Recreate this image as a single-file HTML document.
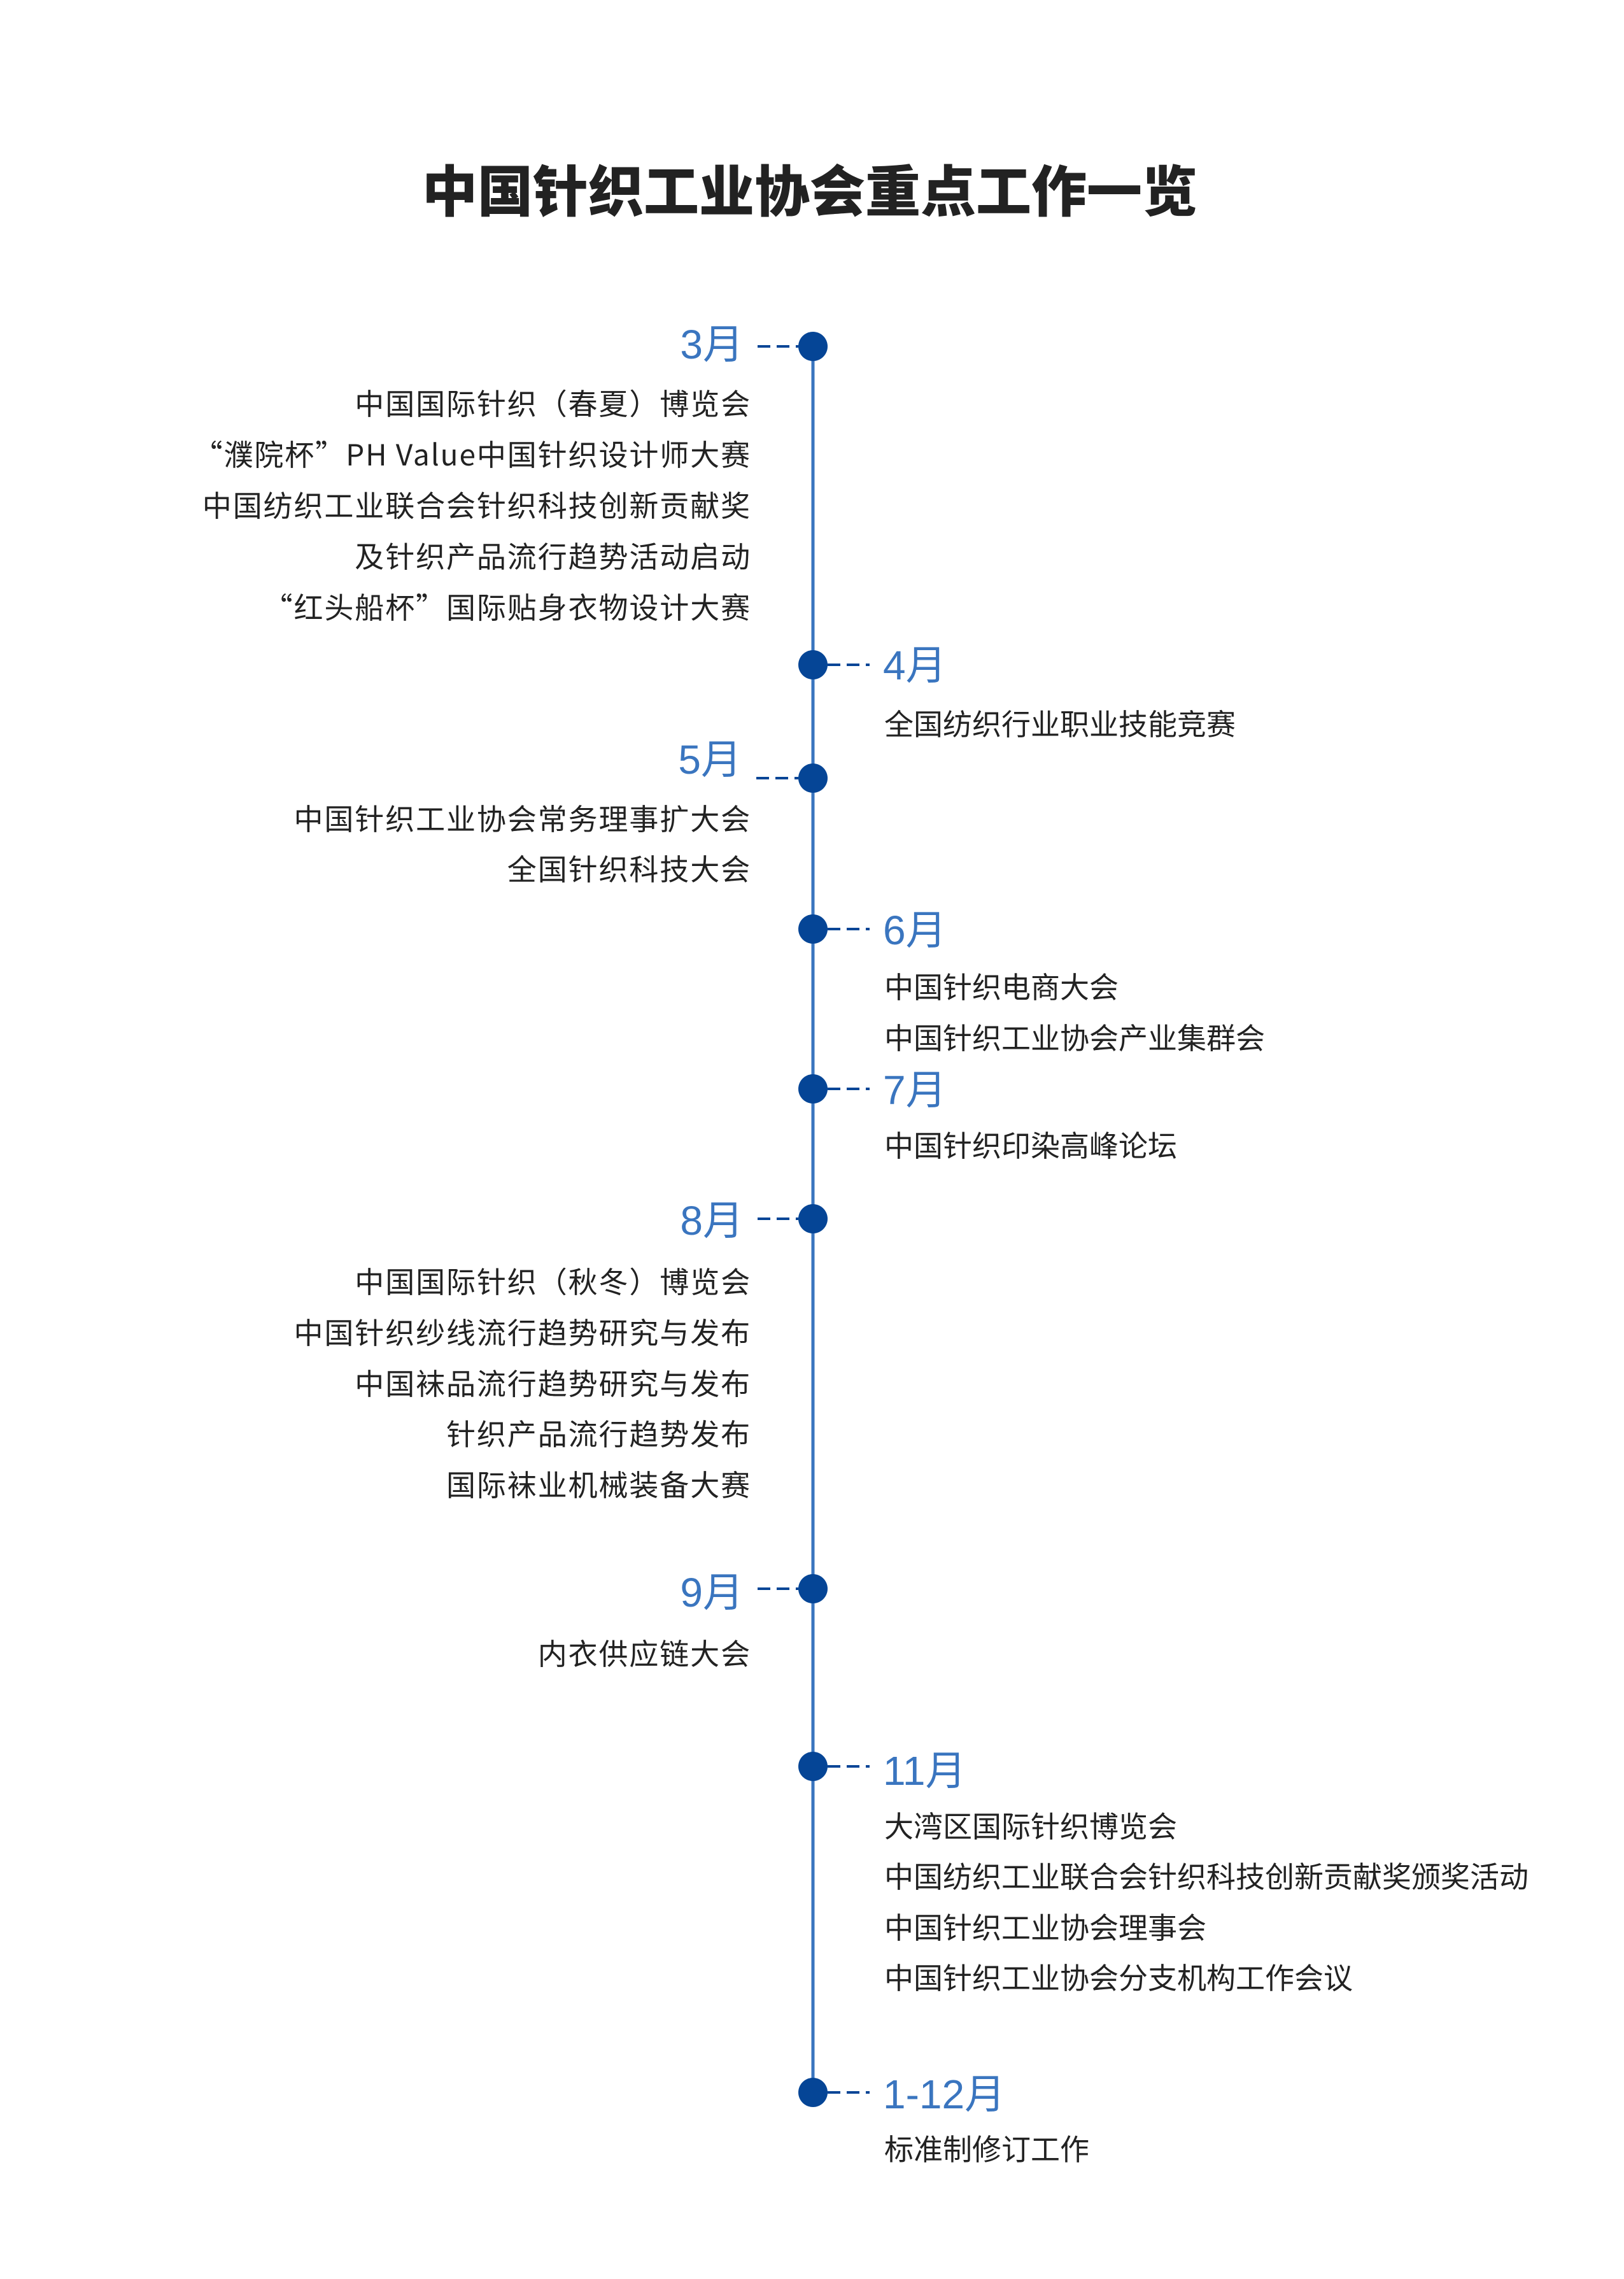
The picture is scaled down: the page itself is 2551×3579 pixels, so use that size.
<!DOCTYPE html>
<html><head><meta charset="utf-8"><style>
html,body{margin:0;padding:0;background:#fff;}
body{width:2551px;height:3579px;position:relative;overflow:hidden;font-family:"Liberation Sans","Noto Sans CJK SC",sans-serif;}
.t{position:absolute;white-space:nowrap;font-size:46px;line-height:46px;color:#222;font-family:"Noto Sans CJK SC",sans-serif;}
.l{right:1371px;text-align:right;letter-spacing:1.9px;}
.r{left:1389px;}
.m{position:absolute;white-space:nowrap;font-size:64px;line-height:64px;color:#3a75bf;font-family:"Liberation Sans","Noto Sans CJK SC",sans-serif;}
.title{position:absolute;left:663px;top:252px;font-size:87px;line-height:87px;font-weight:900;color:#222;font-family:"Noto Sans CJK SC",sans-serif;white-space:nowrap;}
</style></head><body>
<div class="title">中国针织工业协会重点工作一览</div>
<svg width="2551" height="3579" style="position:absolute;left:0;top:0">
<line x1="1277" y1="544" x2="1277" y2="3286" stroke="#3a75bf" stroke-width="5"/>
<g stroke="#054596" stroke-width="4" stroke-dasharray="20,10">
<line x1="1190" y1="544" x2="1254" y2="544"/>
<line x1="1300" y1="1044" x2="1366" y2="1044"/>
<line x1="1188" y1="1222" x2="1254" y2="1222"/>
<line x1="1300" y1="1459" x2="1366" y2="1459"/>
<line x1="1300" y1="1710" x2="1366" y2="1710"/>
<line x1="1190" y1="1914" x2="1254" y2="1914"/>
<line x1="1190" y1="2495" x2="1254" y2="2495"/>
<line x1="1300" y1="2774" x2="1366" y2="2774"/>
<line x1="1300" y1="3286" x2="1366" y2="3286"/>
</g>
<g fill="#054596">
<circle cx="1277" cy="544" r="23"/>
<circle cx="1277" cy="1044" r="23"/>
<circle cx="1277" cy="1222" r="23"/>
<circle cx="1277" cy="1459" r="23"/>
<circle cx="1277" cy="1710" r="23"/>
<circle cx="1277" cy="1914" r="23"/>
<circle cx="1277" cy="2495" r="23"/>
<circle cx="1277" cy="2774" r="23"/>
<circle cx="1277" cy="3286" r="23"/>
</g>
</svg>

<div class="m" style="right:1383px;top:509px">3月</div>
<div class="t l" style="top:609px">中国国际针织（春夏）博览会</div>
<div class="t l" style="top:689px">“濮院杯”PH Value中国针织设计师大赛</div>
<div class="t l" style="top:769px">中国纺织工业联合会针织科技创新贡献奖</div>
<div class="t l" style="top:849px">及针织产品流行趋势活动启动</div>
<div class="t l" style="top:929px">“红头船杯”国际贴身衣物设计大赛</div>

<div class="m" style="left:1387px;top:1013px">4月</div>
<div class="t r" style="top:1112px">全国纺织行业职业技能竞赛</div>

<div class="m" style="right:1386px;top:1161px">5月</div>
<div class="t l" style="top:1261px">中国针织工业协会常务理事扩大会</div>
<div class="t l" style="top:1340px">全国针织科技大会</div>

<div class="m" style="left:1387px;top:1429px">6月</div>
<div class="t r" style="top:1525px">中国针织电商大会</div>
<div class="t r" style="top:1605px">中国针织工业协会产业集群会</div>

<div class="m" style="left:1387px;top:1680px">7月</div>
<div class="t r" style="top:1774px">中国针织印染高峰论坛</div>

<div class="m" style="right:1383px;top:1885px">8月</div>
<div class="t l" style="top:1988px">中国国际针织（秋冬）博览会</div>
<div class="t l" style="top:2068px">中国针织纱线流行趋势研究与发布</div>
<div class="t l" style="top:2148px">中国袜品流行趋势研究与发布</div>
<div class="t l" style="top:2227px">针织产品流行趋势发布</div>
<div class="t l" style="top:2307px">国际袜业机械装备大赛</div>

<div class="m" style="right:1383px;top:2469px">9月</div>
<div class="t l" style="top:2572px">内衣供应链大会</div>

<div class="m" style="left:1387px;top:2749px">11月</div>
<div class="t r" style="top:2843px">大湾区国际针织博览会</div>
<div class="t r" style="top:2922px">中国纺织工业联合会针织科技创新贡献奖颁奖活动</div>
<div class="t r" style="top:3002px">中国针织工业协会理事会</div>
<div class="t r" style="top:3081px">中国针织工业协会分支机构工作会议</div>

<div class="m" style="left:1387px;top:3257px">1-12月</div>
<div class="t r" style="top:3350px">标准制修订工作</div>
</body></html>
